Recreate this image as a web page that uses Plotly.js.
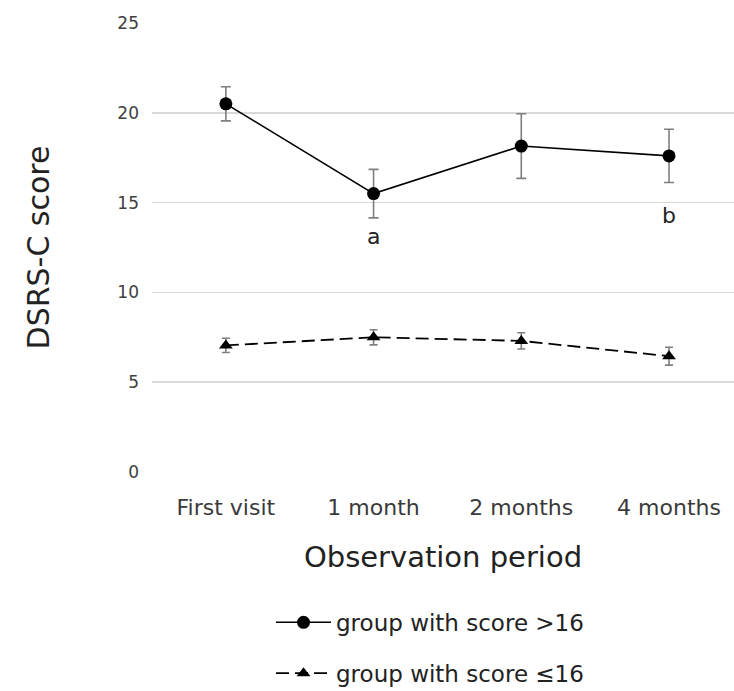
<!DOCTYPE html>
<html>
<head>
<meta charset="utf-8">
<script src="https://cdn.plot.ly/plotly-3.0.1.min.js"></script>
<style>html,body{margin:0;padding:0;background:#fff;}#chart{width:734px;height:691px;}</style>
</head>
<body>
<div id="chart"></div>
<script>
const periods = ["First visit", "1 month", "2 months", "4 months"];
const highGroupMeans = [20.5, 15.5, 18.15, 17.6];
const highGroupErr = [0.95, 1.35, 1.8, 1.48];
const lowGroupMeans = [7.05, 7.5, 7.3, 6.45];
const lowGroupErr = [0.4, 0.42, 0.45, 0.5];
const yTicks = [0, 5, 10, 15, 20, 25];
const sigLabels = [{period: "1 month", y: 13.1, text: "a"}, {period: "4 months", y: 14.3, text: "b"}];

const FONT = "DejaVu Sans, Verdana, sans-serif";

const traces = [
  {
    x: periods, y: highGroupMeans, type: "scatter", mode: "lines+markers",
    name: "group with score >16", legendgroup: "g1",
    line: {color: "#000", width: 1.6},
    marker: {symbol: "circle", size: 13, color: "#000"},
    error_y: {type: "data", array: highGroupErr, visible: true, color: "#7f7f7f", thickness: 1.6, width: 5}
  },
  {
    x: periods, y: lowGroupMeans, type: "scatter", mode: "lines+markers",
    name: "group with score ≤16", legendgroup: "g2",
    line: {color: "#000", width: 1.8, dash: "13px,6px"},
    marker: {symbol: "triangle-up", size: 12, color: "#000"},
    error_y: {type: "data", array: lowGroupErr, visible: true, color: "#7f7f7f", thickness: 1.6, width: 4}
  }
];

const layout = {
  width: 734, height: 691,
  margin: {l: 152, r: 0, t: 22.5, b: 218.5, autoexpand: false},
  paper_bgcolor: "#fff", plot_bgcolor: "#fff",
  font: {family: FONT, color: "#404040"},
  showlegend: true,
  legend: {
    orientation: "v", x: 0.2045, xanchor: "left", y: -0.287, yanchor: "top",
    font: {family: FONT, size: 23, color: "#222"},
    itemwidth: 55,
    traceorder: "grouped", tracegroupgap: 18
  },
  xaxis: {
    type: "category", range: [-0.5, 3.44],
    showgrid: false, zeroline: false, showline: false, ticks: "",
    tickfont: {family: FONT, size: 22, color: "#3a3a3a"},
    ticklabelstandoff: 20,
    title: {text: "Observation period", font: {family: FONT, size: 29, color: "#222"}, standoff: 27}
  },
  yaxis: {
    range: [0, 25], tickvals: yTicks, ticktext: yTicks.map(String),
    showgrid: true, gridcolor: "#d9d9d9", gridwidth: 1.5, zeroline: false, showline: false, ticks: "",
    tickfont: {family: FONT, size: 17, color: "#404040"},
    ticklabelstandoff: 12,
    title: {text: "DSRS-C score", font: {family: FONT, size: 30, color: "#222"}, standoff: 58}
  },
  annotations: sigLabels.map(s => ({
    x: s.period, y: s.y, xref: "x", yref: "y", text: s.text, showarrow: false,
    font: {family: FONT, size: 22, color: "#222"}
  }))
};

Plotly.newPlot("chart", traces, layout, {displayModeBar: false, staticPlot: true});
</script>
</body>
</html>
